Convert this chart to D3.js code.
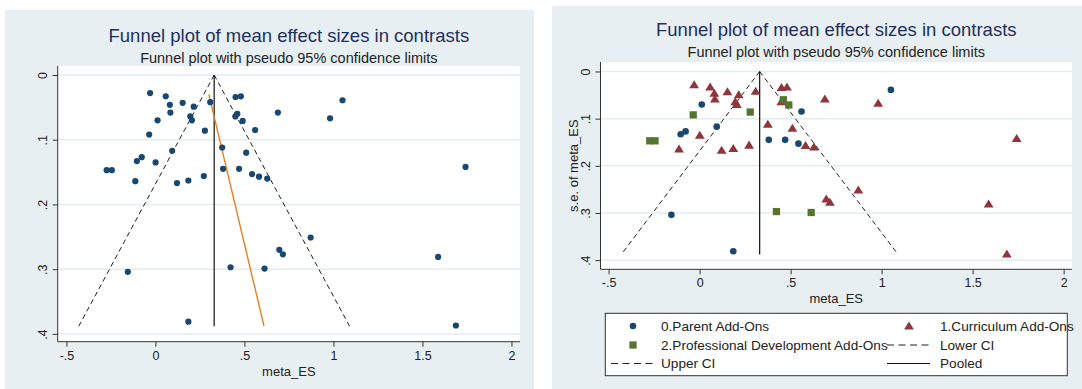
<!DOCTYPE html>
<html>
<head>
<meta charset="utf-8">
<script src="https://cdn.jsdelivr.net/npm/d3@7"></script>
<style>
  body { margin: 0; background: #fff; }
  svg { display: block; font-family: "Liberation Sans", Arial, sans-serif; }
</style>
</head>
<body>
<svg id="root" width="1082" height="389"></svg>
<script>
// [effect size, standard error]
const parentPts = [
  [0.012, 0.070], [0.094, 0.117], [-0.077, 0.127], [-0.104, 0.133], [0.560, 0.085],
  [0.380, 0.145], [0.470, 0.145], [0.543, 0.153], [1.051, 0.039], [-0.155, 0.304],
  [0.185, 0.381]
];
const curriculumPts = [
  [-0.030, 0.028], [0.058, 0.033], [0.081, 0.046], [0.084, 0.058], [0.153, 0.043],
  [0.215, 0.049], [0.196, 0.064], [0.205, 0.070], [0.308, 0.042], [0.450, 0.034],
  [0.480, 0.033], [0.449, 0.064], [0.688, 0.058], [0.001, 0.135], [-0.113, 0.164],
  [0.121, 0.167], [0.185, 0.163], [0.272, 0.156], [0.375, 0.112], [0.510, 0.120],
  [0.582, 0.157], [0.628, 0.160], [0.981, 0.067], [1.742, 0.142], [0.872, 0.251],
  [1.588, 0.281], [1.688, 0.387], [0.696, 0.270], [0.716, 0.277]
];
const profDevPts = [
  [-0.274, 0.147], [-0.245, 0.147], [-0.035, 0.092], [0.278, 0.086], [0.460, 0.060],
  [0.490, 0.071], [0.422, 0.297], [0.613, 0.299]
];

const pooled = 0.33;
const maxSE = 0.388;
const eggerLine = [[0.30, 0.030], [0.61, 0.388]];

const xTicks = [-0.5, 0, 0.5, 1, 1.5, 2];
const xTickLabels = ['-.5', '0', '.5', '1', '1.5', '2'];
const yTicks = [0, 0.1, 0.2, 0.3, 0.4];
const yTickLabels = ['0', '.1', '.2', '.3', '.4'];

const titleText = 'Funnel plot of mean effect sizes in contrasts';
const subtitleText = 'Funnel plot with pseudo 95% confidence limits';
const legendLabels = ['0.Parent Add-Ons', '1.Curriculum Add-Ons',
  '2.Professional Development Add-Ons', 'Lower CI', 'Upper CI', 'Pooled'];

const colors = {
  bg: '#e8eff2', grid: '#e2edf0', title: '#1e2f5e',
  navy: '#1a476f', maroon: '#90353b', green: '#55752f', orange: '#e6801f', axis: '#333'
};

const svg = d3.select('#root');

function drawPanel(cfg) {
  const g = svg.append('g');

  g.append('rect')
    .attr('x', cfg.bg[0]).attr('y', cfg.bg[1])
    .attr('width', cfg.bg[2]).attr('height', cfg.bg[3])
    .attr('fill', colors.bg);

  const x = d3.scaleLinear().domain(cfg.xDomain).range([cfg.left, cfg.right]);
  const y = d3.scaleLinear().domain(cfg.yDomain).range([cfg.top, cfg.bottom]);

  g.append('rect')
    .attr('x', cfg.left).attr('y', cfg.top)
    .attr('width', cfg.right - cfg.left).attr('height', cfg.bottom - cfg.top)
    .attr('fill', '#fff');

  // grid
  g.selectAll('.grid').data(yTicks).enter().append('line')
    .attr('x1', cfg.left).attr('x2', cfg.right)
    .attr('y1', d => y(d)).attr('y2', d => y(d))
    .attr('stroke', colors.grid).attr('stroke-width', 1.5);

  // titles
  const cx = (cfg.left + cfg.right) / 2;
  g.append('text').attr('x', cx).attr('y', cfg.titleY)
    .attr('text-anchor', 'middle').attr('font-size', 18.5)
    .attr('fill', colors.title).text(titleText);
  g.append('text').attr('x', cx).attr('y', cfg.titleY + 21)
    .attr('text-anchor', 'middle').attr('font-size', 14.5)
    .attr('fill', '#222').text(subtitleText);

  // axes
  const axisX = d3.axisBottom(x).tickValues(xTicks)
    .tickFormat((d, i) => xTickLabels[i]).tickSize(5).tickPadding(4);
  const ax = g.append('g').attr('transform', `translate(0, ${cfg.bottom})`).call(axisX);
  ax.select('.domain').attr('stroke', colors.axis).attr('d', `M${cfg.left},0H${cfg.right}`);
  ax.selectAll('.tick line').attr('stroke', colors.axis);
  ax.selectAll('.tick text').attr('font-size', 12.5).attr('fill', '#222')
    .attr('font-family', 'Liberation Sans, Arial, sans-serif');

  const axisY = d3.axisLeft(y).tickValues(yTicks)
    .tickFormat((d, i) => yTickLabels[i]).tickSize(5);
  const ay = g.append('g').attr('transform', `translate(${cfg.left}, 0)`).call(axisY);
  ay.select('.domain').attr('stroke', colors.axis).attr('d', `M0,${cfg.top}V${cfg.bottom}`);
  ay.selectAll('.tick line').attr('stroke', colors.axis);
  ay.selectAll('.tick text').remove();
  ay.selectAll('.tick').append('text')
    .attr('transform', 'translate(-10.5, 0) rotate(-90)')
    .attr('text-anchor', 'middle').attr('font-size', 12.5).attr('fill', '#222')
    .attr('font-family', 'Liberation Sans, Arial, sans-serif')
    .text((d, i) => yTickLabels[i]);

  g.append('text').attr('x', cx).attr('y', cfg.bottom + 34)
    .attr('text-anchor', 'middle').attr('font-size', 13).attr('fill', '#222')
    .text('meta_ES');

  if (cfg.yTitle) {
    g.append('text')
      .attr('transform', `translate(${cfg.left - 23}, ${(cfg.top + cfg.bottom) / 2}) rotate(-90)`)
      .attr('text-anchor', 'middle').attr('font-size', 13).attr('fill', '#222')
      .text('s.e. of meta_ES');
  }

  // CI funnel and pooled line
  const line = d3.line().x(d => x(d[0])).y(d => y(d[1]));
  const lowerCI = [[pooled, 0], [pooled - 1.96 * maxSE, maxSE]];
  const upperCI = [[pooled, 0], [pooled + 1.96 * maxSE, maxSE]];
  [lowerCI, upperCI].forEach(seg => {
    g.append('path').attr('d', line(seg)).attr('fill', 'none')
      .attr('stroke', '#222').attr('stroke-width', 1).attr('stroke-dasharray', '5,3.5');
  });
  g.append('path').attr('d', line([[pooled, 0], [pooled, maxSE]]))
    .attr('fill', 'none').attr('stroke', '#111').attr('stroke-width', 1.2);

  if (cfg.egger) {
    g.append('path').attr('d', line(eggerLine)).attr('fill', 'none')
      .attr('stroke', colors.orange).attr('stroke-width', 1.4);
  }

  // markers
  const groups = cfg.grouped
    ? [{ pts: parentPts, shape: 'circle', color: colors.navy },
       { pts: curriculumPts, shape: 'triangle', color: colors.maroon },
       { pts: profDevPts, shape: 'square', color: colors.green }]
    : [{ pts: parentPts.concat(curriculumPts, profDevPts), shape: 'circle', color: colors.navy }];

  groups.forEach(grp => {
    const sel = g.append('g').selectAll('.pt').data(grp.pts).enter();
    drawMarker(sel, grp.shape, grp.color, d => x(d[0]), d => y(d[1]), cfg.r);
  });
}

function drawMarker(sel, shape, color, fx, fy, r) {
  if (shape === 'circle') {
    sel.append('circle').attr('cx', fx).attr('cy', fy).attr('r', r).attr('fill', color);
  } else if (shape === 'square') {
    sel.append('rect').attr('x', d => fx(d) - r * 1.1).attr('y', d => fy(d) - r * 1.1)
      .attr('width', r * 2.2).attr('height', r * 2.2).attr('fill', color);
  } else {
    const s = r * 1.35;
    sel.append('path')
      .attr('d', d => `M${fx(d)},${fy(d) - s}L${fx(d) + s * 1.1},${fy(d) + s * 0.8}L${fx(d) - s * 1.1},${fy(d) + s * 0.8}Z`)
      .attr('fill', color);
  }
}

// left panel
drawPanel({
  bg: [5, 10, 529, 379],
  left: 57.7, right: 520, top: 66, bottom: 341.7,
  xDomain: [-0.549, 2.048], yDomain: [-0.0139, 0.412],
  titleY: 41.5, r: 3.1, egger: true, grouped: false, yTitle: false
});

// right panel
drawPanel({
  bg: [552, 5.7, 530, 384],
  left: 600.5, right: 1072, top: 62, bottom: 269.3,
  xDomain: [-0.5445, 2.046], yDomain: [-0.0201, 0.4194],
  titleY: 36, r: 3.3, egger: false, grouped: true, yTitle: true
});

// legend
const lg = svg.append('g');
lg.append('rect').attr('x', 605.3).attr('y', 313.3).attr('width', 462).attr('height', 62.4)
  .attr('fill', '#fff').attr('stroke', '#333').attr('stroke-width', 1);

const rowY = [326, 345, 363.5];
const colKey = [633, 909];
const colText = [661, 940];
const legendItems = [
  { label: legendLabels[0], kind: 'circle', color: colors.navy, col: 0, row: 0 },
  { label: legendLabels[1], kind: 'triangle', color: colors.maroon, col: 1, row: 0 },
  { label: legendLabels[2], kind: 'square', color: colors.green, col: 0, row: 1 },
  { label: legendLabels[3], kind: 'dash', color: '#222', col: 1, row: 1 },
  { label: legendLabels[4], kind: 'dash', color: '#222', col: 0, row: 2 },
  { label: legendLabels[5], kind: 'solid', color: '#111', col: 1, row: 2 }
];
legendItems.forEach(it => {
  const kx = colKey[it.col], ky = rowY[it.row];
  if (it.kind === 'dash' || it.kind === 'solid') {
    lg.append('line').attr('x1', kx - 22).attr('x2', kx + 21).attr('y1', ky).attr('y2', ky)
      .attr('stroke', it.color).attr('stroke-width', 1.1)
      .attr('stroke-dasharray', it.kind === 'dash' ? '7,4.5' : null);
  } else {
    drawMarker(lg.append('g').selectAll('.k').data([0]).enter(), it.kind, it.color,
      () => kx, () => ky, 3.3);
  }
  lg.append('text').attr('x', colText[it.col]).attr('y', ky + 4.7)
    .attr('font-size', 13.6).attr('fill', '#222').text(it.label);
});
</script>
</body>
</html>
